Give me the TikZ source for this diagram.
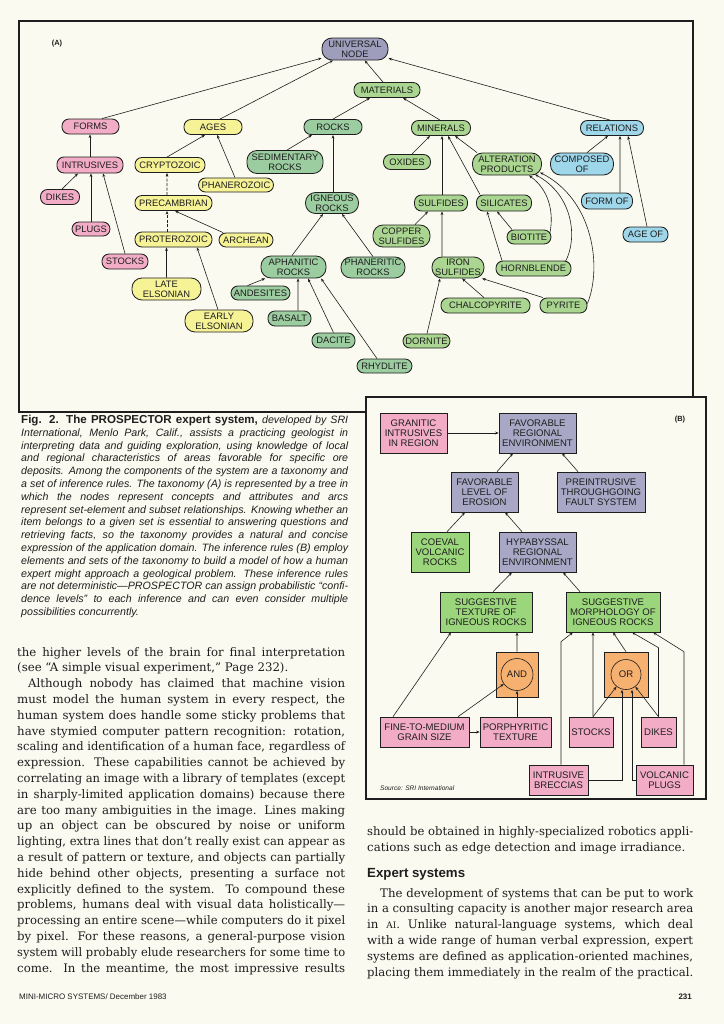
\documentclass[tikz,border=0pt]{standalone}
\usepackage{graphicx}
\usepackage{fontspec}
\setmainfont{DejaVu Serif}
\newfontfamily\lsans{Liberation Sans}
\usetikzlibrary{arrows.meta}
\definecolor{paper}{RGB}{251,250,240}
\definecolor{ink}{RGB}{30,30,30}
\definecolor{pinkA}{RGB}{243,172,198}
\definecolor{yelA}{RGB}{246,242,150}
\definecolor{grnR}{RGB}{156,205,160}
\definecolor{grnM}{RGB}{170,214,145}
\definecolor{bluA}{RGB}{158,214,234}
\definecolor{grayA}{RGB}{158,158,188}
\definecolor{grayB}{RGB}{168,168,198}
\definecolor{grnB}{RGB}{156,214,124}
\definecolor{orgB}{RGB}{246,176,112}
\newsavebox\lbox
\newcommand\fitl[2]{\sbox\lbox{#2}\ifdim\wd\lbox>#1\relax\resizebox{#1}{\height}{\usebox\lbox}\else\makebox[#1][s]{#2}\fi}
\tikzset{
 pill/.style={draw=ink, line width=0.85bp, rounded corners=7bp, inner sep=0pt, align=center, text=ink, font=\lsans\fontsize{9.4}{10}\selectfont},
 pilltwo/.style={pill, rounded corners=10bp},
 bx/.style={draw=ink, line width=0.6bp, inner sep=0pt, align=center, text=ink, font=\lsans\fontsize{9.6}{10}\selectfont},
 arr/.style={draw=ink, line width=0.6bp, -{Stealth[length=3.6bp,width=2.8bp]}},
 dsh/.style={dash pattern=on 3bp off 1.5bp},
 bodyl/.style={anchor=base west, inner sep=0pt, text=ink, font=\fontsize{11.8}{13}\selectfont},
 capl/.style={anchor=base west, inner sep=0pt, text=ink, font=\lsans\itshape\fontsize{10.7}{12}\selectfont},
}
\begin{document}
\begin{tikzpicture}[x=1bp,y=-1bp]
\fill[paper] (0,0) rectangle (724,1024);
\useasboundingbox (0,0) rectangle (724,1024);

% ---------- frame A ----------
\draw[ink, line width=1.1bp] (366,412) -- (19,412) -- (19,21) -- (693,21) -- (693,397);
\node[anchor=center, inner sep=0pt, text=ink, font=\lsans\bfseries\fontsize{7.5}{8}\selectfont] (labA) at (57,44) {(A)};

% ---------- nodes A ----------
\node[pilltwo, fill=grayA, minimum width=66bp, minimum height=22bp] (univ) at (355,49) {UNIVERSAL\\NODE};
\node[pill, fill=grnM, minimum width=66bp, minimum height=15bp] (mat) at (387,90) {MATERIALS};
\node[pill, fill=pinkA, minimum width=57bp, minimum height=15bp] (forms) at (90.5,126.5) {FORMS};
\node[pill, fill=yelA, minimum width=58bp, minimum height=15bp] (ages) at (213,127) {AGES};
\node[pill, fill=grnR, minimum width=58bp, minimum height=15bp] (rocks) at (333,127) {ROCKS};
\node[pill, fill=grnM, minimum width=59bp, minimum height=15bp] (minerals) at (441,128) {MINERALS};
\node[pill, fill=bluA, minimum width=63bp, minimum height=15bp] (relations) at (612,128) {RELATIONS};
\node[pill, fill=pinkA, minimum width=66bp, minimum height=16bp] (intr) at (90,165) {INTRUSIVES};
\node[pill, fill=yelA, minimum width=70bp, minimum height=15bp] (crypto) at (170,165) {CRYPTOZOIC};
\node[pilltwo, fill=grnR, minimum width=76bp, minimum height=23bp] (sedi) at (285,162) {SEDIMENTARY\\ROCKS};
\node[pill, fill=yelA, minimum width=75bp, minimum height=14bp] (phanero) at (236,185) {PHANEROZOIC};
\node[pill, fill=pinkA, minimum width=39bp, minimum height=15bp] (dikes) at (60,197) {DIKES};
\node[pill, fill=yelA, minimum width=77bp, minimum height=15bp] (precamb) at (173.5,203) {PRECAMBRIAN};
\node[pilltwo, fill=grnR, minimum width=53bp, minimum height=21bp] (igneous) at (332,203) {IGNEOUS\\ROCKS};
\node[pill, fill=grnM, minimum width=47bp, minimum height=15bp] (oxides) at (407,162) {OXIDES};
\node[pilltwo, fill=grnM, minimum width=69bp, minimum height=22bp] (alter) at (507,164) {ALTERATION\\PRODUCTS};
\node[pilltwo, fill=bluA, minimum width=63bp, minimum height=22bp] (composed) at (582,164) {COMPOSED\\OF};
\node[pill, fill=grnM, minimum width=53bp, minimum height=16bp] (sulfides) at (441,203) {SULFIDES};
\node[pill, fill=grnM, minimum width=55bp, minimum height=16bp] (silicates) at (504,203) {SILICATES};
\node[pill, fill=bluA, minimum width=51bp, minimum height=16bp] (formof) at (607,201) {FORM OF};
\node[pill, fill=pinkA, minimum width=38bp, minimum height=14bp] (plugs) at (91,229) {PLUGS};
\node[pill, fill=yelA, minimum width=77bp, minimum height=15bp] (protero) at (173.5,239.5) {PROTEROZOIC};
\node[pill, fill=yelA, minimum width=54bp, minimum height=14bp] (archean) at (246,240) {ARCHEAN};
\node[pill, fill=pinkA, minimum width=46bp, minimum height=15bp] (stocksA) at (125,261.5) {STOCKS};
\node[pilltwo, fill=grnR, minimum width=65bp, minimum height=22bp] (aphan) at (293.5,267) {APHANITIC\\ROCKS};
\node[pilltwo, fill=grnR, minimum width=64bp, minimum height=21bp] (phaner) at (373,267.5) {PHANERITIC\\ROCKS};
\node[pilltwo, fill=yelA, minimum width=69bp, minimum height=22bp] (late) at (166.5,289) {LATE\\ELSONIAN};
\node[pill, fill=grnR, minimum width=59bp, minimum height=14bp] (andes) at (260.5,293) {ANDESITES};
\node[pilltwo, fill=yelA, minimum width=68bp, minimum height=22bp] (early) at (219,321) {EARLY\\ELSONIAN};
\node[pill, fill=grnR, minimum width=43bp, minimum height=15bp] (basalt) at (289.5,318.5) {BASALT};
\node[pill, fill=grnR, minimum width=43bp, minimum height=15bp] (dacite) at (333.5,340.5) {DACITE};
\node[pill, fill=grnR, minimum width=55bp, minimum height=14bp] (rhyd) at (384.5,366) {RHYDLITE};
\node[pilltwo, fill=grnM, minimum width=57bp, minimum height=22bp] (copper) at (401.5,236) {COPPER\\SULFIDES};
\node[pill, fill=grnM, minimum width=44bp, minimum height=14bp] (biotite) at (529,237) {BIOTITE};
\node[pilltwo, fill=grnM, minimum width=52bp, minimum height=21bp] (iron) at (458,267.5) {IRON\\SULFIDES};
\node[pill, fill=grnM, minimum width=75bp, minimum height=15bp] (hornb) at (533.5,268.5) {HORNBLENDE};
\node[pill, fill=grnM, minimum width=89bp, minimum height=15bp] (chalco) at (485.5,305.5) {CHALCOPYRITE};
\node[pill, fill=grnM, minimum width=47bp, minimum height=15bp] (pyrite) at (563.5,305.5) {PYRITE};
\node[pill, fill=grnM, minimum width=47bp, minimum height=14bp] (dornite) at (426.5,341) {DORNITE};
\node[pill, fill=bluA, minimum width=45bp, minimum height=15bp] (ageof) at (645.5,234.5) {AGE OF};

% ---------- edges A ----------
\draw[arr] ([xshift=11.5bp]forms.north) -- (univ);
\draw[arr] ([xshift=7bp]ages.north) -- (univ);
\draw[arr] ([xshift=-4bp]mat.north) -- (univ);
\draw[arr] ([xshift=-2bp]relations.north) -- (univ);
\draw[arr] (rocks.north) -- ([xshift=-17bp]mat.south);
\draw[arr] ([xshift=-1bp]minerals.north) -- ([xshift=16bp]mat.south);
\draw[arr] (intr.north) -- ([xshift=-0.5bp]forms.south);
\draw[arr] ([xshift=2bp]dikes.north) -- ([xshift=-12bp]intr.south);
\draw[arr] (plugs.north) -- ([xshift=1bp]intr.south);
\draw[arr] (stocksA.north) -- ([xshift=13bp]intr.south);
\draw[arr] ([xshift=-3bp]crypto.north) -- ([xshift=-8bp]ages.south);
\draw[arr] ([xshift=-1bp]phanero.north) -- ([xshift=4bp]ages.south);
\draw[arr, dsh] ([xshift=-6.5bp]precamb.north) -- ([xshift=-3bp]crypto.south);
\draw[arr, dsh] ([xshift=-6.5bp]protero.north) -- ([xshift=-6.5bp]precamb.south);
\draw[arr] ([xshift=-23bp]archean.north) -- ([xshift=1.5bp]precamb.south);
\draw[arr] (late.north) -- ([xshift=-7bp]protero.south);
\draw[arr] ([xshift=-1bp]early.north) -- ([xshift=23.5bp]protero.south);
\draw[arr] ([xshift=2bp]sedi.north) -- ([xshift=-21bp]rocks.south);
\draw[arr] ([xshift=1bp]igneous.north) -- (rocks.south);
\draw[arr] ([xshift=-1.5bp]aphan.north) -- ([xshift=-9bp]igneous.south);
\draw[arr] (phaner.north) -- ([xshift=10bp]igneous.south);
\draw[arr] ([xshift=-13bp]andes.north) -- (aphan);
\draw[arr] ([xshift=8.5bp]basalt.north) -- ([xshift=4.5bp]aphan.south);
\draw[arr] (dacite.north) -- ([xshift=14.5bp]aphan.south);
\draw[arr] ([xshift=-7.5bp]rhyd.north) -- ([xshift=27.5bp]aphan.south);
\draw[arr] ([xshift=5bp]oxides.north) -- ([xshift=-11bp]minerals.south);
\draw[arr] ([xshift=1bp]sulfides.north) -- ([xshift=1bp]minerals.south);
\draw[arr] ([xshift=-24bp]silicates.north) -- ([xshift=7bp]minerals.south);
\draw[arr] ([xshift=-30bp]alter.north) -- ([xshift=14bp]minerals.south);
\draw[arr] ([xshift=13.5bp]copper.north) -- ([xshift=-13bp]sulfides.south);
\draw[arr] ([xshift=-16bp]iron.north) -- ([xshift=1bp]sulfides.south);
\draw[arr] ([xshift=-17bp]biotite.north) -- ([xshift=-7bp]silicates.south);
\draw[arr] ([xshift=-31.5bp]hornb.north) -- ([xshift=-17bp]silicates.south);
\draw[arr] ([xshift=-1.5bp]chalco.north) -- ([xshift=4bp]iron.south);
\draw[arr] ([xshift=-20.5bp]pyrite.north) -- ([xshift=24bp]iron.south);
\draw[arr] ([xshift=0.5bp]dornite.north) -- ([xshift=-18bp]iron.south);
\draw[arr] ([xshift=-1.5bp,yshift=4bp]biotite.east) .. controls (554,212) and (549,190) .. ([xshift=22bp]alter.south);
\draw[arr] ([xshift=-6bp,yshift=-1bp]hornb.north east) .. controls (578,238) and (573,195) .. ([xshift=28bp,yshift=1bp]alter.south);
\draw[arr] ([yshift=2bp]pyrite.east) .. controls (602,268) and (594,200) .. ([xshift=33bp,yshift=3bp]alter.south);
\draw[arr] ([xshift=5bp]composed.north) -- ([xshift=-4bp]relations.south);
\draw[arr] ([xshift=13bp]formof.north) -- ([xshift=8bp]relations.south);
\draw[arr] ([xshift=1.5bp]ageof.north) -- ([xshift=16bp]relations.south);

% ---------- frame B ----------
\draw[ink, line width=1.1bp, fill=paper] (366,397) rectangle (706,799);
\node[anchor=center, inner sep=0pt, text=ink, font=\lsans\bfseries\fontsize{7.5}{8}\selectfont] (labB) at (680,420) {(B)};

\node[bx, fill=pinkA, minimum width=67bp, minimum height=40bp] (granitic) at (413.5,433) {GRANITIC\\INTRUSIVES\\IN REGION};
\node[bx, fill=grayB, minimum width=77bp, minimum height=40bp] (favreg) at (537.5,433) {FAVORABLE\\REGIONAL\\ENVIRONMENT};
\node[bx, fill=grayB, minimum width=67bp, minimum height=40bp] (erosion) at (484.5,492) {FAVORABLE\\LEVEL OF\\EROSION};
\node[bx, fill=grayB, minimum width=88bp, minimum height=40bp] (preintr) at (601,492) {PREINTRUSIVE\\THROUGHGOING\\FAULT SYSTEM};
\node[bx, fill=grnB, minimum width=58bp, minimum height=40bp] (coeval) at (440,552) {COEVAL\\VOLCANIC\\ROCKS};
\node[bx, fill=grayB, minimum width=77bp, minimum height=40bp] (hypab) at (537.5,552) {HYPABYSSAL\\REGIONAL\\ENVIRONMENT};
\node[bx, fill=grnB, minimum width=92bp, minimum height=40bp] (texture) at (486,612) {SUGGESTIVE\\TEXTURE OF\\IGNEOUS ROCKS};
\node[bx, fill=grnB, minimum width=94bp, minimum height=40bp] (morph) at (613,612) {SUGGESTIVE\\MORPHOLOGY OF\\IGNEOUS ROCKS};
\node[bx, fill=orgB, minimum width=42bp, minimum height=45bp] (andbox) at (517,674.5) {};
\node[bx, circle, minimum size=32bp] (andc) at (517,674.5) {AND};
\node[bx, fill=orgB, minimum width=44bp, minimum height=45bp] (orbox) at (626,674.5) {};
\node[bx, circle, minimum size=30bp] (orc) at (626,674.5) {OR};
\node[bx, fill=pinkA, minimum width=89bp, minimum height=30bp] (fine) at (424.5,732) {FINE-TO-MEDIUM\\GRAIN SIZE};
\node[bx, fill=pinkA, minimum width=71bp, minimum height=30bp] (porph) at (515.5,732) {PORPHYRITIC\\TEXTURE};
\node[bx, fill=pinkA, minimum width=44bp, minimum height=30bp] (stocksB) at (591,732) {STOCKS};
\node[bx, fill=pinkA, minimum width=35bp, minimum height=30bp] (dikesB) at (658.5,732) {DIKES};
\node[bx, fill=pinkA, minimum width=59bp, minimum height=30bp] (breccias) at (558.5,780) {INTRUSIVE\\BRECCIAS};
\node[bx, fill=pinkA, minimum width=57bp, minimum height=30bp] (vplugs) at (664.5,780) {VOLCANIC\\PLUGS};
\node[anchor=west, inner sep=0pt, text=ink, font=\lsans\itshape\fontsize{6.6}{8}\selectfont] (source) at (380,788) {Source: SRI International};

% ---------- edges B ----------
\draw[arr] (granitic) -- (favreg);
\draw[arr] ([xshift=12.5bp]erosion.north) -- ([xshift=-24.5bp]favreg.south);
\draw[arr] ([xshift=-23bp]preintr.north) -- ([xshift=24.5bp]favreg.south);
\draw[arr] ([xshift=7bp]coeval.north) -- ([xshift=-19.5bp]erosion.south);
\draw[arr] ([xshift=-15.5bp]hypab.north) -- ([xshift=20.5bp]erosion.south);
\draw[arr] ([xshift=7bp]texture.north) -- ([xshift=-25.5bp]hypab.south);
\draw[arr] ([xshift=-33bp]morph.north) -- ([xshift=25.5bp]hypab.south);
\draw[arr] ([xshift=-31.5bp]fine.north) -- ([xshift=-35bp]texture.south);
\draw[arr] (andbox.north) -- ([xshift=31bp]texture.south);
\draw[arr] ([xshift=33.5bp]fine.north) -- (andc);
\draw[arr] ([xshift=1.5bp]porph.north) -- (andc.south);
\draw[arr] (fine) -- (porph);
\draw[arr] (orbox.north) -- (morph.south);
\draw[arr] ([xshift=2bp]stocksB.north) -- ([xshift=-20bp]morph.south);
\draw[arr] ([xshift=2bp]stocksB.north) -- (orc);
\draw[arr] (dikesB.north) -- (orc);
\draw[arr] (dikesB.north) -- ([yshift=69bp]dikesB.north) -- ([xshift=19bp]morph.south);
\draw[arr] ([xshift=2.5bp]breccias.north) -- ([xshift=2.5bp,yshift=123bp]breccias.north) -- ([xshift=-40bp]morph.south);
\draw[arr] (breccias.east) -| ([xshift=-4bp]orc.south);
\draw[arr] (vplugs.west) -| ([xshift=6bp]orc.south);
\draw[arr] ([xshift=19.5bp]vplugs.north) -- ([xshift=19.5bp,yshift=113bp]vplugs.north) -- ([xshift=40bp]morph.south);

% ---------- caption ----------
\node[capl] (c1) at (21,423.5) {\fitl{327bp}{{\upshape\bfseries\fontsize{11.6}{12}\selectfont Fig. 2. The PROSPECTOR expert system,} developed by SRI}};
\node[capl] (c2) at (21,436.3) {\fitl{327bp}{International, Menlo Park, Calif., assists a practicing geologist in}};
\node[capl] (c3) at (21,449.1) {\fitl{327bp}{interpreting data and guiding exploration, using knowledge of local}};
\node[capl] (c4) at (21,461.9) {\fitl{327bp}{and regional characteristics of areas favorable for specific ore}};
\node[capl] (c5) at (21,474.7) {\fitl{327bp}{deposits. Among the components of the system are a taxonomy and}};
\node[capl] (c6) at (21,487.5) {\fitl{327bp}{a set of inference rules. The taxonomy (A) is represented by a tree in}};
\node[capl] (c7) at (21,500.3) {\fitl{327bp}{which the nodes represent concepts and attributes and arcs}};
\node[capl] (c8) at (21,513.1) {\fitl{327bp}{represent set-element and subset relationships. Knowing whether an}};
\node[capl] (c9) at (21,525.9) {\fitl{327bp}{item belongs to a given set is essential to answering questions and}};
\node[capl] (c10) at (21,538.7) {\fitl{327bp}{retrieving facts, so the taxonomy provides a natural and concise}};
\node[capl] (c11) at (21,551.5) {\fitl{327bp}{expression of the application domain. The inference rules (B) employ}};
\node[capl] (c12) at (21,564.3) {\fitl{327bp}{elements and sets of the taxonomy to build a model of how a human}};
\node[capl] (c13) at (21,577.1) {\fitl{327bp}{expert might approach a geological problem. These inference rules}};
\node[capl] (c14) at (21,589.9) {\fitl{327bp}{are not deterministic—PROSPECTOR can assign probabilistic “confi-}};
\node[capl] (c15) at (21,602.7) {\fitl{327bp}{dence levels” to each inference and can even consider multiple}};
\node[capl] (c16) at (21,615.5) {possibilities concurrently.};

% ---------- left column ----------
\node[bodyl] (l0) at (17,656) {\fitl{328bp}{the higher levels of the brain for final interpretation}};
\node[bodyl] (l1) at (17,671.8) {(see “A simple visual experiment,” Page 232).};
\node[bodyl] (l2) at (28,687.6) {\fitl{317bp}{Although nobody has claimed that machine vision}};
\node[bodyl] (l3) at (17,703.4) {\fitl{328bp}{must model the human system in every respect, the}};
\node[bodyl] (l4) at (17,719.2) {\fitl{328bp}{human system does handle some sticky problems that}};
\node[bodyl] (l5) at (17,735) {\fitl{328bp}{have stymied computer pattern recognition: rotation,}};
\node[bodyl] (l6) at (17,750.8) {\fitl{328bp}{scaling and identification of a human face, regardless of}};
\node[bodyl] (l7) at (17,766.6) {\fitl{328bp}{expression. These capabilities cannot be achieved by}};
\node[bodyl] (l8) at (17,782.4) {\fitl{328bp}{correlating an image with a library of templates (except}};
\node[bodyl] (l9) at (17,798.2) {\fitl{328bp}{in sharply-limited application domains) because there}};
\node[bodyl] (l10) at (17,814) {\fitl{328bp}{are too many ambiguities in the image. Lines making}};
\node[bodyl] (l11) at (17,829.8) {\fitl{328bp}{up an object can be obscured by noise or uniform}};
\node[bodyl] (l12) at (17,845.6) {\fitl{328bp}{lighting, extra lines that don’t really exist can appear as}};
\node[bodyl] (l13) at (17,861.4) {\fitl{328bp}{a result of pattern or texture, and objects can partially}};
\node[bodyl] (l14) at (17,877.2) {\fitl{328bp}{hide behind other objects, presenting a surface not}};
\node[bodyl] (l15) at (17,893) {\fitl{328bp}{explicitly defined to the system. To compound these}};
\node[bodyl] (l16) at (17,908.8) {\fitl{328bp}{problems, humans deal with visual data holistically—}};
\node[bodyl] (l17) at (17,924.6) {\fitl{328bp}{processing an entire scene—while computers do it pixel}};
\node[bodyl] (l18) at (17,940.4) {\fitl{328bp}{by pixel. For these reasons, a general-purpose vision}};
\node[bodyl] (l19) at (17,956.2) {\fitl{328bp}{system will probably elude researchers for some time to}};
\node[bodyl] (l20) at (17,972) {\fitl{328bp}{come. In the meantime, the most impressive results}};

% ---------- right column ----------
\node[bodyl] (r0) at (367,835) {\fitl{326bp}{should be obtained in highly-specialized robotics appli-}};
\node[bodyl] (r1) at (367,851) {cations such as edge detection and image irradiance.};
\node[anchor=base west, inner sep=0pt, text=ink, font=\lsans\bfseries\fontsize{13.3}{15}\selectfont] (rh) at (367,877) {Expert systems};
\node[bodyl] (r2) at (380,897) {\fitl{313bp}{The development of systems that can be put to work}};
\node[bodyl] (r3) at (367,912.8) {\fitl{326bp}{in a consulting capacity is another major research area}};
\node[bodyl] (r4) at (367,928.6) {\fitl{326bp}{in {\fontsize{9}{10}\selectfont AI}. Unlike natural-language systems, which deal}};
\node[bodyl] (r5) at (367,944.4) {\fitl{326bp}{with a wide range of human verbal expression, expert}};
\node[bodyl] (r6) at (367,960.2) {\fitl{326bp}{systems are defined as application-oriented machines,}};
\node[bodyl] (r7) at (367,976) {\fitl{326bp}{placing them immediately in the realm of the practical.}};

% ---------- footer ----------
\node[anchor=base west, inner sep=0pt, text=ink, font=\lsans\fontsize{8}{9}\selectfont] (foot) at (19,999) {MINI-MICRO SYSTEMS/ December 1983};
\node[anchor=base east, inner sep=0pt, text=ink, font=\lsans\bfseries\fontsize{8}{9}\selectfont] (pnum) at (692,999) {231};
\end{tikzpicture}
\end{document}
